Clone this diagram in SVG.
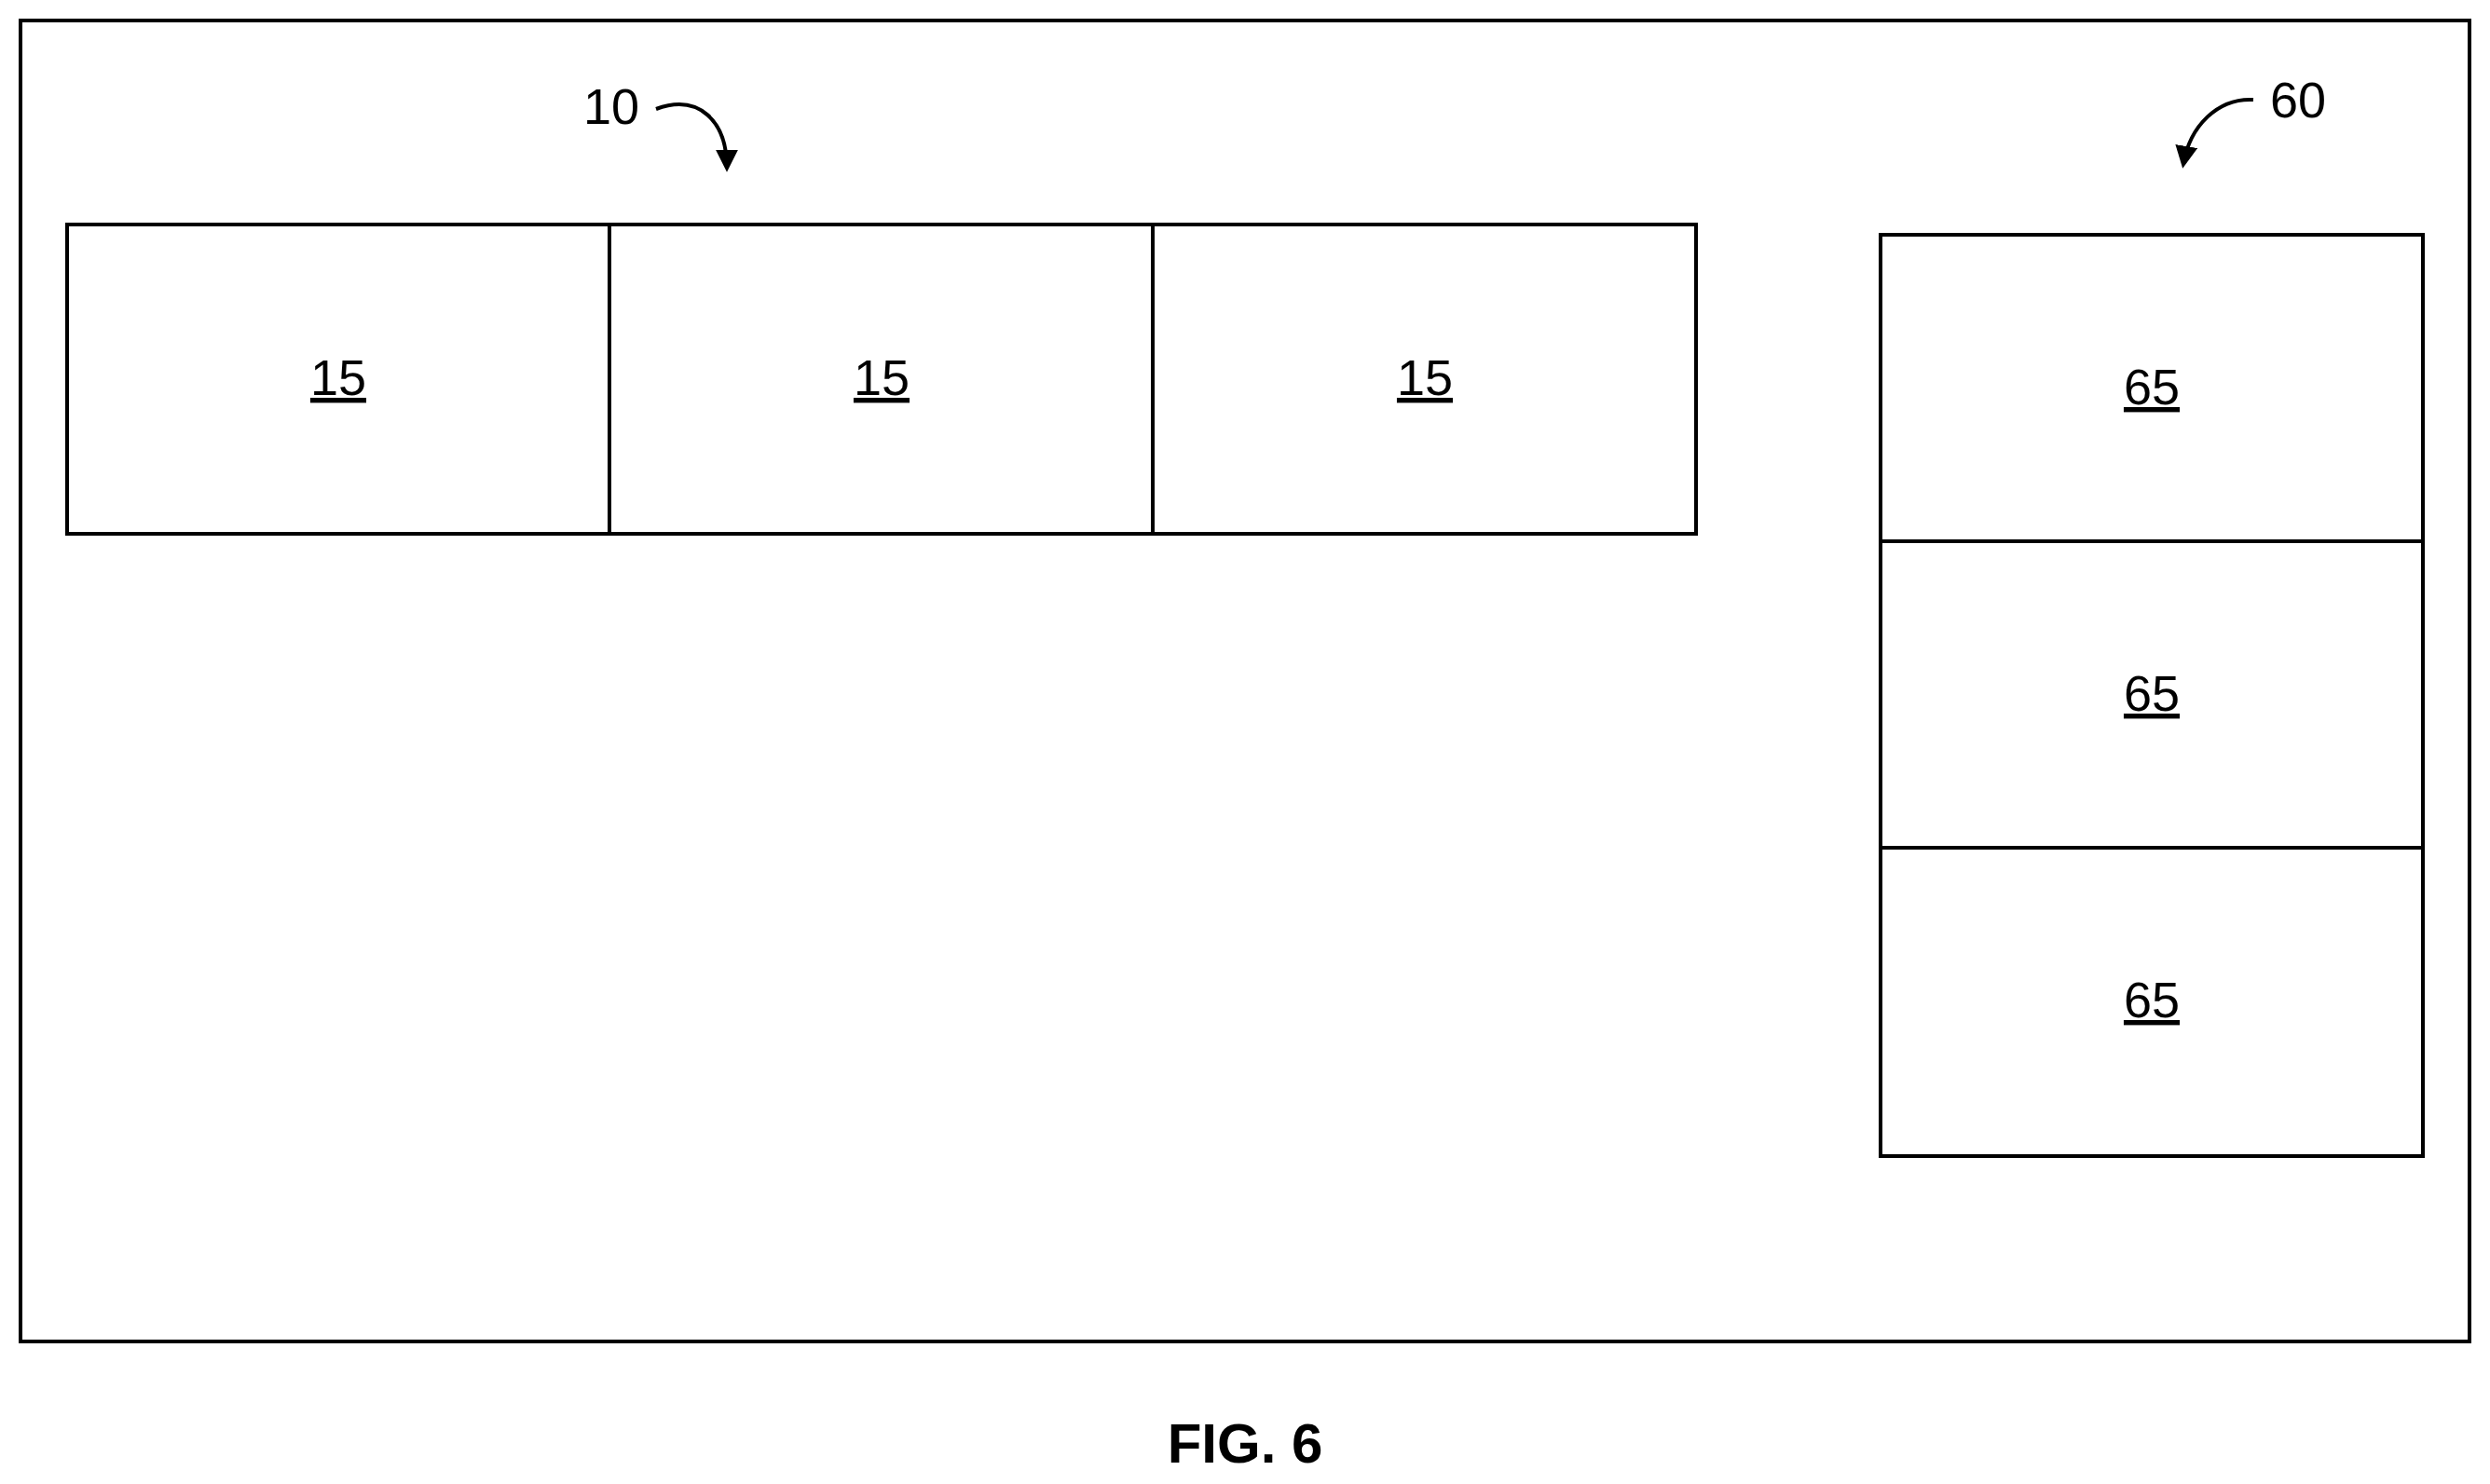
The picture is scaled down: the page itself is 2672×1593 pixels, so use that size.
<svg xmlns="http://www.w3.org/2000/svg" width="2672" height="1593" viewBox="0 0 2672 1593">
<style>
.b{fill:none;stroke:#000;stroke-width:4}
.l{font-family:"Liberation Sans",Arial,sans-serif;font-size:54px;text-anchor:middle}
.u{text-decoration:underline}
</style>
<defs><marker id="a" viewBox="0 0 10 10" refX="8" refY="5" markerWidth="6" markerHeight="6" orient="auto"><path d="M0,0 L10,5 L0,10 z"/></marker></defs>
<rect width="2672" height="1593" fill="#fff"/>
<rect class="b" x="22" y="22" width="2628" height="1418"/>
<g id="n10">
<g id="n15a"><rect class="b" x="72" y="241" width="582" height="332"/><text class="l u" x="363" y="424">15</text></g>
<g id="n15b"><rect class="b" x="654" y="241" width="583" height="332"/><text class="l u" x="946" y="424">15</text></g>
<g id="n15c"><rect class="b" x="1237" y="241" width="583" height="332"/><text class="l u" x="1529" y="424">15</text></g>
</g>
<g id="n60">
<g id="n65a"><rect class="b" x="2018" y="252" width="582" height="329"/><text class="l u" x="2309" y="434">65</text></g>
<g id="n65b"><rect class="b" x="2018" y="581" width="582" height="329"/><text class="l u" x="2309" y="763">65</text></g>
<g id="n65c"><rect class="b" x="2018" y="910" width="582" height="331"/><text class="l u" x="2309" y="1092">65</text></g>
</g>
<text class="l" x="656" y="133">10</text>
<text class="l" x="2466" y="126">60</text>
<text class="l" x="1336" y="1570" style="font-weight:bold;font-size:60px">FIG. 6</text>
<g id="connectors" fill="none" stroke="#000" stroke-width="4">
<path d="M704,117 C750,100 780,130 780,180" marker-end="url(#a)"/>
<path d="M2418,107 C2380,105 2350,135 2343,176" marker-end="url(#a)"/>
</g>
</svg>
